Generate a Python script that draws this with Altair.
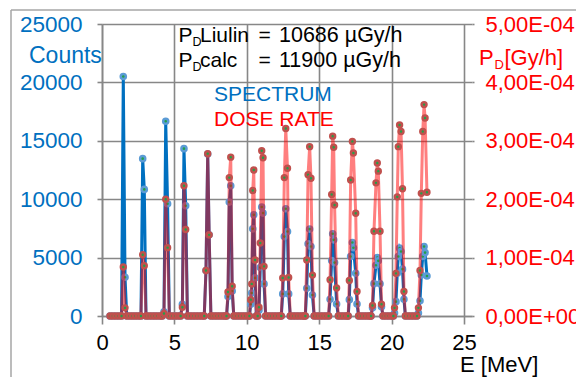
import altair as alt
import pandas as pd

# ---------------- data ----------------
# channels with zero counts (baseline)
zero_E = [0.55, 0.75, 0.95, 1.15, 1.35,
          1.71, 1.91, 2.11, 2.31, 2.51, 2.69,
          3.04, 3.24, 3.44, 3.64, 3.84, 4.04, 4.16,
          4.65, 4.85, 5.05, 5.25, 5.43,
          5.90, 6.10, 6.30, 6.50, 6.70, 6.90, 7.06,
          7.52, 7.72, 7.92, 8.12, 8.32, 8.50, 8.60,
          9.10, 9.30, 9.50, 9.70, 9.90, 10.10, 10.18,
          10.66, 10.75,
          11.30, 11.50, 11.70, 11.90, 12.10, 12.30, 12.38,
          13.00, 13.20, 13.40, 13.60, 13.80, 13.95, 14.04,
          14.65, 14.85, 15.05, 15.25, 15.45, 15.65,
          16.32, 16.52, 16.72, 16.92, 17.00,
          17.72, 17.92, 18.12, 18.32, 18.50, 18.58,
          19.40, 19.60, 19.80, 20.00, 20.12,
          20.95, 21.15, 21.35, 21.55, 21.75]

# channels inside the peaks
peak_E = [1.47, 1.59,
          2.81, 2.92,
          4.28, 4.40, 4.53,
          5.55, 5.66, 5.78,
          7.18, 7.30, 7.40,
          8.70, 8.79, 8.89, 8.99,
          10.27, 10.34, 10.41, 10.48, 10.57,
          10.84, 10.93, 11.03, 11.12, 11.19,
          12.48, 12.59, 12.69, 12.81, 12.89,
          14.14, 14.23, 14.34, 14.43, 14.53,
          15.75, 15.86, 15.93, 16.00, 16.06, 16.20,
          17.08, 17.17, 17.29, 17.36, 17.52, 17.61,
          18.68, 18.78, 18.92, 19.01, 19.08, 19.20, 19.30,
          20.20, 20.30, 20.39, 20.46, 20.55, 20.65, 20.75, 20.85,
          21.85, 21.96, 22.05, 22.15, 22.24, 22.31, 22.44]

peak_counts = [20500, 3320,
               13470, 10840,
               370, 16670, 9610,
               1000, 14330, 9440,
               3900, 13870, 6950,
               1660, 9750, 11150, 2145,
               1000, 1970, 7460, 8660, 3260,
               500, 4150, 9330, 8810, 2750,
               1890, 6800, 9180, 7230, 1890,
               2380, 6180, 7440, 5950, 1800,
               1430, 4750, 7040, 6520, 4570, 1030,
               1400, 5090, 6290, 5840, 3660, 1030,
               700, 2770, 4340, 5000, 4720, 2760, 800,
               250, 1230, 3660, 5090, 5810, 5520, 4010, 1430,
               250, 1310, 3520, 5090, 5950, 5430, 3430]

peak_dose = [8.4e-5, 1.4e-5,
             1.05e-4, 8.6e-5,
             4.4e-6, 2.0e-4, 1.17e-4,
             1.5e-5, 2.23e-4, 1.48e-4,
             7.8e-5, 2.78e-4, 1.39e-4,
             4.1e-5, 2.37e-4, 2.72e-4, 5.1e-5,
             2.8e-5, 5.5e-5, 2.15e-4, 2.5e-4, 9.6e-5,
             1.5e-5, 1.25e-4, 2.83e-4, 2.71e-4, 8.5e-5,
             6.5e-5, 2.37e-4, 3.21e-4, 2.53e-4, 6.6e-5,
             9.6e-5, 2.42e-4, 2.9e-4, 2.36e-4, 7.0e-5,
             6.2e-5, 2.08e-4, 3.08e-4, 2.89e-4, 1.9e-4, 4.8e-5,
             6.1e-5, 2.33e-4, 2.99e-4, 2.79e-4, 1.76e-4, 4.2e-5,
             1.8e-5, 1.45e-4, 2.28e-4, 2.62e-4, 2.48e-4, 1.45e-4, 2.0e-5,
             1.4e-5, 7.3e-5, 2.04e-4, 2.9e-4, 3.27e-4, 3.16e-4, 2.18e-4, 4.2e-5,
             1.4e-5, 7.8e-5, 2.1e-4, 3.16e-4, 3.62e-4, 3.39e-4, 2.12e-4]

x_ticks = [0, 5, 10, 15, 20, 25]
count_ticks = [0, 5000, 10000, 15000, 20000, 25000]
dose_ticks = [0, 1e-4, 2e-4, 3e-4, 4e-4, 5e-4]

# ---------------- table ----------------
df = pd.DataFrame({
    "E": zero_E + peak_E,
    "counts": [0] * len(zero_E) + peak_counts,
    "dose": [0.0] * len(zero_E) + peak_dose,
}).sort_values("E").reset_index(drop=True)

FONT = "Liberation Sans"
GRID = "#878787"
BLUE = "#0070C0"
RED = "#FF0000"

x_enc = alt.X("E:Q",
              scale=alt.Scale(domain=[0, 25.55], nice=False, zero=False),
              axis=alt.Axis(values=x_ticks, title=None, grid=True,
                            labelFlush=False,
                            gridColor=GRID, gridWidth=1.6,
                            domainColor=GRID, domainWidth=1.6,
                            tickColor=GRID, tickWidth=1.6, tickSize=8,
                            labelFontSize=22, labelColor="black",
                            labelPadding=8, labelFont=FONT))

y_counts = alt.Y("counts:Q",
                 scale=alt.Scale(domain=[0, 25000], nice=False),
                 axis=alt.Axis(values=count_ticks, title=None, grid=True,
                               format="d", labelFlush=False,
                               gridColor=GRID, gridWidth=1.6,
                               domainColor=GRID, domainWidth=1.6,
                               tickColor=GRID, tickWidth=1.6, tickSize=5,
                               labelFontSize=22.5, labelColor=BLUE,
                               labelPadding=15, labelFont=FONT))

y_dose = alt.Y("dose:Q",
               scale=alt.Scale(domain=[0, 5e-4], nice=False),
               axis=alt.Axis(values=dose_ticks, title=None, grid=False,
                             orient="right", domain=False, labelFlush=False,
                             tickColor=GRID, tickWidth=1.6, tickSize=2,
                             labelFontSize=22, labelColor=RED,
                             labelPadding=11, labelFont=FONT,
                             labelExpr="datum.value < 1e-9 ? '0,00E+00' : "
                                       "replace(format(datum.value*1e4, '.2f'), '.', ',') + 'E-04'"))

base = alt.Chart(df)

spec = alt.layer(
    base.mark_line(color=BLUE, strokeWidth=3).encode(x=x_enc, y=y_counts),
    base.mark_circle(fill="#22A04A", stroke="#5B9BD5", strokeWidth=2.5,
                     size=26, opacity=1).encode(x=x_enc, y=y_counts),
)

dose = alt.layer(
    base.mark_line(color=RED, strokeWidth=3, opacity=0.5).encode(x=x_enc, y=y_dose),
    base.mark_circle(fill="#22A04A", stroke="#C0504D", strokeWidth=2.5,
                     size=24, opacity=1).encode(x=x_enc, y=y_dose),
)

one = pd.DataFrame({"a": [0]})


def label(txt, x, y, size, color):
    return alt.Chart(pd.DataFrame({"t": [txt]})).mark_text(
        align="left", baseline="alphabetic", fontSize=size, color=color, font=FONT
    ).encode(x=alt.value(x), y=alt.value(y), text="t:N")


border_top = alt.Chart(one).mark_rule(color="#A6A6A6", strokeWidth=1.5).encode(
    x=alt.value(-91), x2=alt.value(490), y=alt.value(-14))
border_left = alt.Chart(one).mark_rule(color="#A6A6A6", strokeWidth=1.5).encode(
    x=alt.value(-91), y=alt.value(-14), y2=alt.value(380))

texts = [
    label("P", 76.5, 18, 21, "black"),
    label("D", 90.5, 22, 12.5, "black"),
    label("Liulin", 98, 18, 21, "black"),
    label("=", 156.5, 18, 21, "black"),
    label("10686 \u00b5Gy/h", 177, 18, 21.5, "black"),
    label("P", 76.5, 43, 21, "black"),
    label("D", 90.5, 47, 12.5, "black"),
    label("calc", 98, 43, 21, "black"),
    label("=", 156.5, 43, 21, "black"),
    label("11900 \u00b5Gy/h", 177, 43, 21.5, "black"),
    label("SPECTRUM", 112, 77, 21, BLUE),
    label("DOSE RATE", 112, 102, 21, RED),
    label("Counts", -73, 39, 23, BLUE),
    label("P", 377, 41, 22, RED),
    label("D", 392.5, 45, 13, RED),
    label("[Gy/h]", 402.5, 41, 22, RED),
    label("E [MeV]", 358, 348, 22, "black"),
]

chart = alt.layer(border_top, border_left, spec, dose, *texts).resolve_scale(
    y="independent"
).properties(
    width=370, height=292,
    autosize=alt.AutoSizeParams(type="none"),
    padding={"left": 94, "top": 16, "right": 104, "bottom": 61},
).configure_view(stroke=None)

chart.save("out.html", embed_options={"renderer": "svg", "actions": False})
